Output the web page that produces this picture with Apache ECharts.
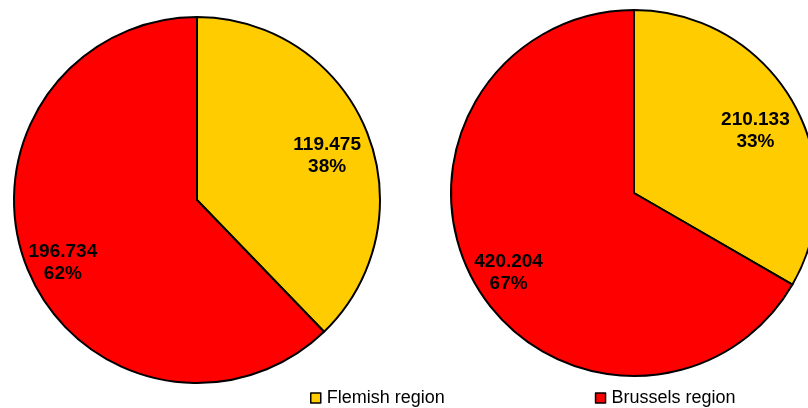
<!DOCTYPE html>
<html>
<head>
<meta charset="utf-8">
<script src="https://cdn.jsdelivr.net/npm/echarts@6/dist/echarts.min.js"></script>
<style>
html,body{margin:0;padding:0;background:#fff;}
#chart{width:808px;height:408px;}
</style>
</head>
<body>
<div id="chart"></div>
<script>
const categories = ['Flemish region', 'Brussels region'];
const leftValues = [119475, 196734];
const rightValues = [210133, 420204];
const colors = ['#FFCC00', '#FF0000'];

const FONT = '"Liberation Sans", Arial, Helvetica, sans-serif';

function fmt(v) {
  return String(v).replace(/\B(?=(\d{3})+(?!\d))/g, '.');
}
function toData(vals) {
  return categories.map((c, i) => ({ name: c, value: vals[i], itemStyle: { color: colors[i] } }));
}
function pieSeries(vals, center) {
  return [
    {
      type: 'pie',
      center: center,
      radius: 183,
      startAngle: 90,
      clockwise: true,
      animation: false,
      avoidLabelOverlap: false,
      data: toData(vals),
      label: { show: false },
      labelLine: { show: false },
      itemStyle: { borderColor: '#000', borderWidth: 2 },
      emphasis: { disabled: true }
    },
    {
      type: 'pie',
      center: center,
      radius: [96, 183],
      startAngle: 90,
      clockwise: true,
      animation: false,
      silent: true,
      avoidLabelOverlap: false,
      data: categories.map((c, i) => ({ name: c, value: vals[i], itemStyle: { color: 'rgba(0,0,0,0)' } })),
      itemStyle: { borderWidth: 0 },
      labelLine: { show: false },
      labelLayout: { dx: -2, dy: 9 },
      label: {
        show: true,
        position: 'inside',
        formatter: p => fmt(p.value) + '\n' + Math.round(p.percent) + '%',
        color: '#000',
        fontFamily: FONT,
        fontWeight: 'bold',
        fontSize: 19,
        lineHeight: 22,
        align: 'center'
      },
      emphasis: { disabled: true }
    }
  ];
}

const chart = echarts.init(document.getElementById('chart'));
chart.setOption({
  backgroundColor: '#fff',
  animation: false,
  legend: {
    data: categories,
    left: 310,
    top: 389,
    padding: 0,
    itemWidth: 10,
    itemHeight: 10,
    itemGap: 150,
    icon: 'rect',
    itemStyle: { borderColor: '#000', borderWidth: 1.5 },
    textStyle: { fontFamily: FONT, fontSize: 18, color: '#000', padding: [0, 0, 0, 1] },
    selectedMode: false
  },
  series: [].concat(pieSeries(leftValues, [197, 200]), pieSeries(rightValues, [634, 193]))
});
</script>
</body>
</html>
